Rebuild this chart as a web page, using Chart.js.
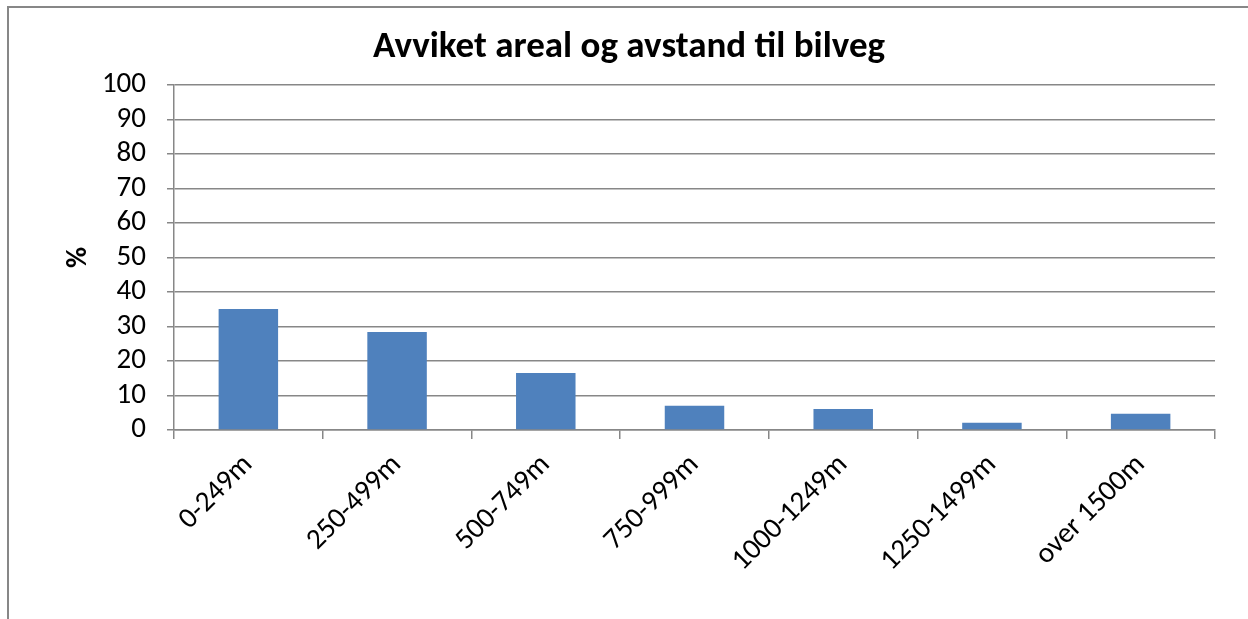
<!DOCTYPE html>
<html>
<head>
<meta charset="utf-8">
<script src="https://cdn.jsdelivr.net/npm/chart.js@4"></script>
<style>
html,body{margin:0;padding:0;background:#fff;overflow:hidden;}
#wrap{position:absolute;left:0;top:0;width:1248px;height:619px;}
#frame{position:absolute;left:7px;top:6px;width:1260px;height:640px;border:2px solid #878787;box-sizing:border-box;pointer-events:none;}
</style>
</head>
<body>
<div id="wrap"><canvas id="c" width="1248" height="619"></canvas></div>
<div id="frame"></div>
<script>
const categories = ["0-249m","250-499m","500-749m","750-999m","1000-1249m","1250-1499m","over 1500m"];
const values = [35.1, 28.4, 16.5, 7.0, 6.1, 2.1, 4.7];
const yTicks = {min:0, max:100, step:10};
const titleText = "Avviket areal og avstand til bilveg";
const yTitle = "%";

const FONT = "Carlito, Lato, 'Open Sans', sans-serif";
const GRID = "#878787";

new Chart(document.getElementById('c'), {
  type: 'bar',
  data: {
    labels: categories,
    datasets: [{
      data: values,
      backgroundColor: '#4F81BD',
      borderWidth: 0,
      categoryPercentage: 1.0,
      barPercentage: 0.4
    }]
  },
  options: {
    responsive: false,
    animation: false,
    devicePixelRatio: 1,
    layout: {padding: {left: 43, right: 33, top: 0, bottom: 0}},
    plugins: {
      legend: {display: false},
      tooltip: {enabled: false},
      title: {
        display: true,
        text: titleText,
        color: '#000',
        font: {family: FONT, size: 37, weight: 'bold', lineHeight: 1.2},
        padding: {top: 26, bottom: 14.6}
      }
    },
    scales: {
      x: {
        offset: true,
        grid: {display: true, drawOnChartArea: false, drawTicks: true, tickLength: 9, color: GRID, lineWidth: 1.5, offset: true},
        border: {display: true, color: GRID, width: 1.5},
        ticks: {color: '#000', font: {family: FONT, size: 29}, minRotation: 45, maxRotation: 45, autoSkip: false, padding: 9},
        afterFit: s => { s.height = 189; }
      },
      y: {
        min: yTicks.min, max: yTicks.max,
        grid: {color: GRID, lineWidth: 1.5, drawTicks: true, tickLength: 7},
        border: {display: true, color: GRID, width: 1.5},
        ticks: {stepSize: yTicks.step, autoSkip: false, color: '#000', font: {family: FONT, size: 29, lineHeight: 1}, padding: 21},
        title: {display: true, text: yTitle, color: '#000', font: {family: FONT, size: 29, weight: 'bold'}, padding: {top: 18, bottom: 0}},
        afterFit: s => { s.width = 131; }
      }
    }
  }
});
</script>
</body>
</html>
